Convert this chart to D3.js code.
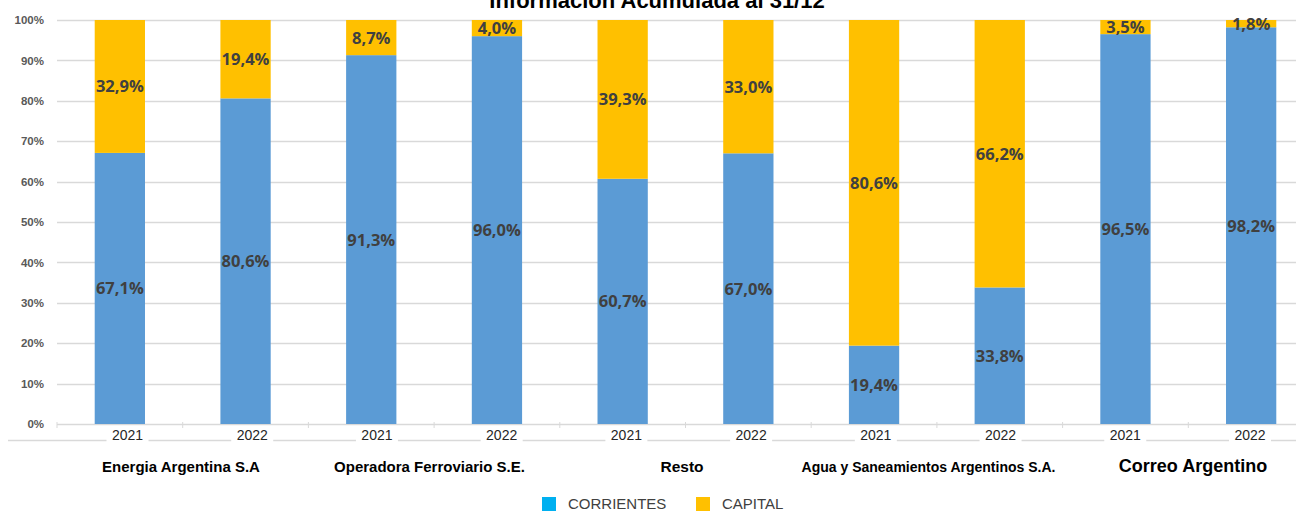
<!DOCTYPE html>
<html>
<head>
<meta charset="utf-8">
<script src="https://cdn.jsdelivr.net/npm/d3@7"></script>
<style>
  body { margin: 0; background: #fff; }
  svg { display: block; }
</style>
</head>
<body>
<div id="chart"></div>
<script>
// chart data
var groups = ['Energia Argentina S.A', 'Operadora Ferroviario S.E.', 'Resto', 'Agua y Saneamientos Argentinos S.A.', 'Correo Argentino'];
var years = ['2021', '2022', '2021', '2022', '2021', '2022', '2021', '2022', '2021', '2022'];
var corrientes = [67.1, 80.6, 91.3, 96.0, 60.7, 67.0, 19.4, 33.8, 96.5, 98.2];
var capital = [32.9, 19.4, 8.7, 4.0, 39.3, 33.0, 80.6, 66.2, 3.5, 1.8];
var yTicks = [0, 10, 20, 30, 40, 50, 60, 70, 80, 90, 100];
var seriesNames = ['CORRIENTES', 'CAPITAL'];

// sizes / styles
var W = 1296, H = 511;
var plot = {left: 57, right: 1314, top: 20, bottom: 424};
var groupFont = [15, 15, 15.5, 14, 18];
var groupNudge = [0, -3, -2, -7, 6];
var barColors = ['#5B9BD5', '#FFC000'];
var legendColors = ['#00B0F0', '#FFC000'];
var sans = "'Liberation Sans', Arial, sans-serif";

var rows = corrientes.map(function(d, i) {
  return {i: i, year: years[i], corrientes: d, capital: capital[i]};
});

var x = d3.scaleBand()
  .domain(d3.range(rows.length))
  .range([plot.left, plot.right])
  .paddingInner(0.6)
  .paddingOuter(0.3);

var y = d3.scaleLinear().domain([0, 100]).range([plot.bottom, plot.top]);

// year labels sit on a slightly tighter spacing than the bars
var xYear = d3.scalePoint().domain(d3.range(rows.length)).range([127.5, 1250]);
var xGroup = d3.scalePoint().domain(groups).range([181, 1187]);

var svg = d3.select('#chart').append('svg')
  .attr('width', W)
  .attr('height', H);

// title (cut off at top in the original)
svg.append('text')
  .attr('x', 657)
  .attr('y', 8)
  .attr('text-anchor', 'middle')
  .attr('font-family', sans)
  .attr('font-weight', 'bold')
  .attr('font-size', 22)
  .attr('fill', '#000')
  .text('Información Acumulada al 31/12');

// gridlines
svg.append('g')
  .selectAll('line')
  .data(yTicks)
  .join('line')
  .attr('x1', plot.left)
  .attr('x2', W)
  .attr('y1', function(d) { return Math.round(y(d)) + 0.5; })
  .attr('y2', function(d) { return Math.round(y(d)) + 0.5; })
  .attr('stroke', '#d9d9d9')
  .attr('stroke-width', 1.3);

// y axis labels
var yAxis = svg.append('g')
  .attr('transform', 'translate(44,0)')
  .call(d3.axisLeft(y).tickValues(yTicks).tickSize(0).tickPadding(0)
    .tickFormat(function(d) { return d + '%'; }));
yAxis.select('.domain').remove();
yAxis.selectAll('text')
  .attr('font-family', sans)
  .attr('font-weight', 'bold')
  .attr('font-size', 11.5)
  .attr('fill', '#595959');

// tick marks at the band boundaries
var step = x.step();
svg.append('g')
  .selectAll('line')
  .data(d3.range(rows.length + 1))
  .join('line')
  .attr('x1', function(i) { return x(0) - step * 0.3 + i * step; })
  .attr('x2', function(i) { return x(0) - step * 0.3 + i * step; })
  .attr('y1', y(0) - 2)
  .attr('y2', y(0) + 4)
  .attr('stroke', '#d9d9d9')
  .attr('stroke-width', 1);

// lower category separator line
svg.append('line')
  .attr('x1', 8).attr('x2', W)
  .attr('y1', 440.5).attr('y2', 440.5)
  .attr('stroke', '#d9d9d9')
  .attr('stroke-width', 1.3);

// stacked bars
var stack = d3.stack().keys(['corrientes', 'capital']);
var series = stack(rows);

svg.append('g')
  .selectAll('g')
  .data(series)
  .join('g')
  .attr('fill', function(d, k) { return barColors[k]; })
  .selectAll('rect')
  .data(function(d) { return d; })
  .join('rect')
  .attr('x', function(d) { return x(d.data.i); })
  .attr('width', x.bandwidth())
  .attr('y', function(d) { return y(Math.min(d[1], 100)); })
  .attr('height', function(d) { return y(d[0]) - y(Math.min(d[1], 100)); });

// data labels
svg.append('g')
  .selectAll('g')
  .data(series)
  .join('g')
  .selectAll('text')
  .data(function(d) { return d; })
  .join('text')
  .attr('x', function(d) { return x(d.data.i) + x.bandwidth() / 2; })
  .attr('y', function(d) { return y((d[0] + Math.min(d[1], 100)) / 2); })
  .attr('dy', '0.36em')
  .attr('text-anchor', 'middle')
  .attr('font-family', "'Open Sans', sans-serif")
  .attr('font-weight', 'bold')
  .attr('font-size', 16.5)
  .attr('fill', '#404040')
  .text(function(d) { return d3.format('.1f')(d[1] - d[0]).replace('.', ',') + '%'; });

// year labels with white background over the separator
var yl = svg.append('g')
  .selectAll('g')
  .data(rows)
  .join('g')
  .attr('transform', function(d) { return 'translate(' + xYear(d.i) + ',440)'; });
yl.append('rect')
  .attr('x', -21).attr('y', -11)
  .attr('width', 42).attr('height', 14)
  .attr('fill', '#fff');
yl.append('text')
  .attr('text-anchor', 'middle')
  .attr('font-family', sans)
  .attr('font-size', 14)
  .attr('fill', '#262626')
  .text(function(d) { return d.year; });

// group labels
svg.append('g')
  .selectAll('text')
  .data(groups)
  .join('text')
  .attr('x', function(d, i) { return xGroup(d) + groupNudge[i]; })
  .attr('y', 471.5)
  .attr('text-anchor', 'middle')
  .attr('font-family', sans)
  .attr('font-weight', 'bold')
  .attr('font-size', function(d, i) { return groupFont[i]; })
  .attr('fill', '#000')
  .text(function(d) { return d; });

// legend
var legendX = [542, 696];
var lg = svg.append('g')
  .selectAll('g')
  .data(seriesNames)
  .join('g')
  .attr('transform', function(d, i) { return 'translate(' + legendX[i] + ',497)'; });
lg.append('rect')
  .attr('width', 14).attr('height', 14)
  .attr('fill', function(d, i) { return legendColors[i]; });
lg.append('text')
  .attr('x', 26)
  .attr('y', 12)
  .attr('font-family', sans)
  .attr('font-size', 15)
  .attr('fill', '#404040')
  .text(function(d) { return d; });
</script>
</body>
</html>
